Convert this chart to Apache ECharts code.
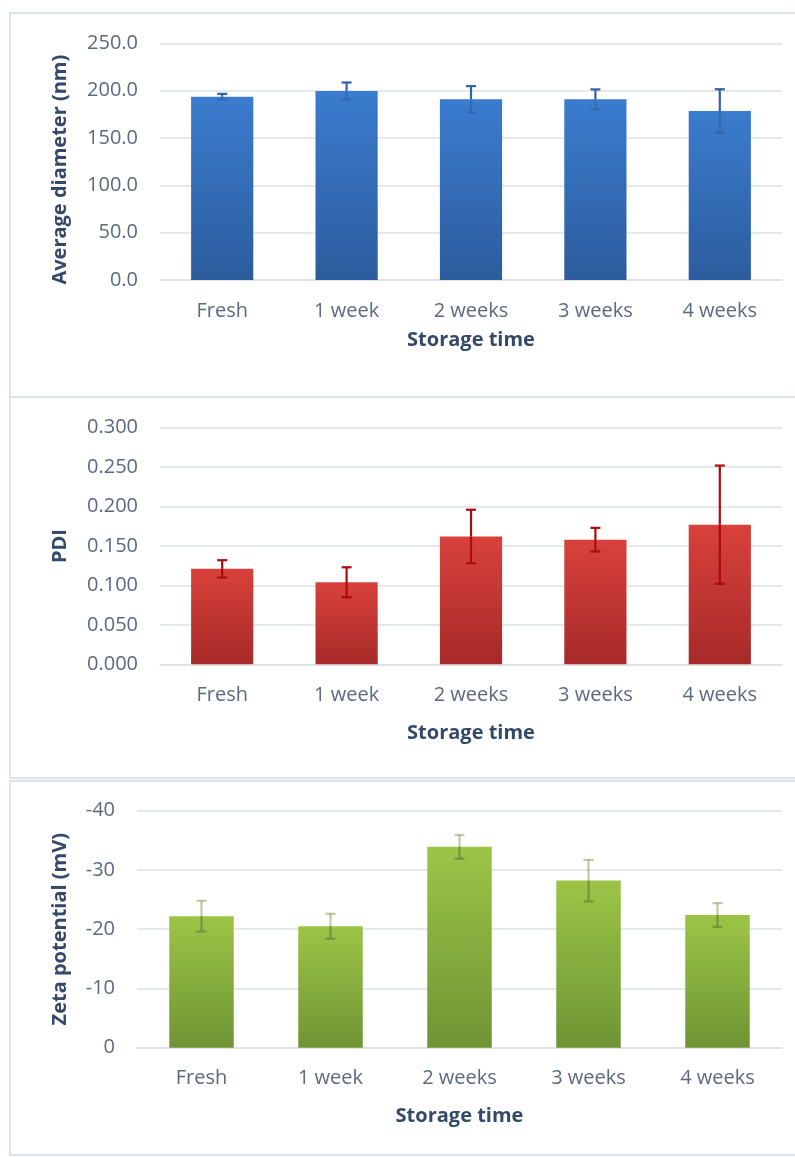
<!DOCTYPE html>
<html>
<head>
<meta charset="utf-8">
<script src="https://cdn.jsdelivr.net/npm/echarts@6/dist/echarts.min.js"></script>
<style>
html,body{margin:0;padding:0;background:#fff;}
#chart{width:795px;height:1157px;}
</style>
</head>
<body>
<div id="chart"></div>
<script>
// ---- data ----
const categories = ['Fresh', '1 week', '2 weeks', '3 weeks', '4 weeks'];
const diameterMean = [193.6, 199.6, 190.8, 190.8, 178.5];
const diameterErr  = [3.0, 9.0, 14.0, 10.5, 23.0];
const pdiMean = [0.121, 0.104, 0.162, 0.158, 0.177];
const pdiErr  = [0.011, 0.019, 0.034, 0.015, 0.075];
const zetaMean = [-22.2, -20.5, -33.9, -28.2, -22.4];
const zetaErr  = [2.6, 2.1, 2.0, 3.5, 2.0];
const xAxisTitle = 'Storage time';
const yTitles = ['Average diameter (nm)', 'PDI', 'Zeta potential (mV)'];

// ---- styling ----
const FONT = 'Open Sans';
const tickColor = '#5b6a7e';
const nameColor = '#34496a';
const gridColor = '#dde1e6';

function grad(top, bottom) {
  return new echarts.graphic.LinearGradient(0, 0, 0, 1, [
    { offset: 0, color: top }, { offset: 1, color: bottom }
  ]);
}

function errSeries(idx, mean, err, color, lowColor) {
  return {
    type: 'custom',
    xAxisIndex: idx, yAxisIndex: idx,
    z: 10,
    data: categories.map((c, i) => [i, mean[i], err[i]]),
    encode: { x: 0, y: 1 },
    renderItem: function (params, api) {
      const x = api.value(0), m = api.value(1), e = api.value(2);
      const hi = api.coord([x, m + e]);
      const mid = api.coord([x, m]);
      const lo = api.coord([x, m - e]);
      const cap = 5;
      const st = { stroke: color, lineWidth: 2.2, fill: null };
      const stLow = { stroke: lowColor, lineWidth: 2.2, fill: null };
      return {
        type: 'group',
        children: [
          { type: 'line', shape: { x1: hi[0], y1: hi[1], x2: mid[0], y2: mid[1] }, style: st },
          { type: 'line', shape: { x1: hi[0] - cap, y1: hi[1], x2: hi[0] + cap, y2: hi[1] }, style: st },
          { type: 'line', shape: { x1: mid[0], y1: mid[1], x2: lo[0], y2: lo[1] }, style: stLow },
          { type: 'line', shape: { x1: lo[0] - cap, y1: lo[1], x2: lo[0] + cap, y2: lo[1] }, style: stLow }
        ]
      };
    }
  };
}

function xAxisDef(idx, nameGap) {
  return {
    type: 'category', gridIndex: idx, data: categories,
    name: xAxisTitle, nameLocation: 'middle', nameGap: nameGap,
    nameTextStyle: { fontFamily: FONT, fontSize: 20, fontWeight: 'bold', color: nameColor },
    axisLine: { lineStyle: { color: gridColor, width: 1.5 } },
    axisTick: { show: false },
    axisLabel: { fontFamily: FONT, fontSize: 20, color: tickColor, margin: 21 }
  };
}

function yAxisDef(idx, min, max, interval, dec, nameGap, inverse, namePad) {
  return {
    type: 'value', gridIndex: idx, min: min, max: max, interval: interval, inverse: !!inverse,
    name: yTitles[idx], nameLocation: 'middle', nameGap: nameGap, nameRotate: 90,
    nameTextStyle: { fontFamily: FONT, fontSize: 20, fontWeight: 'bold', color: nameColor,
      padding: namePad || 0 },
    axisLine: { show: false }, axisTick: { show: false },
    splitLine: { lineStyle: { color: gridColor, width: 1.5 } },
    axisLabel: {
      fontFamily: FONT, fontSize: 20, color: tickColor, margin: 22,
      formatter: v => Number(v).toFixed(dec)
    }
  };
}

const chart = echarts.init(document.getElementById('chart'));
const borderStyle = { fill: 'none', stroke: '#dbe4ec', lineWidth: 2 };
chart.setOption({
  backgroundColor: '#ffffff',
  animation: false,
  graphic: [
    { type: 'rect', shape: { x: 10, y: 13, width: 800, height: 384 }, style: borderStyle, silent: true },
    { type: 'rect', shape: { x: 10, y: 397, width: 800, height: 381 }, style: borderStyle, silent: true },
    { type: 'rect', shape: { x: 10, y: 781, width: 800, height: 374 }, style: borderStyle, silent: true }
  ],
  grid: [
    { left: 160, right: 13, top: 43.3, height: 236.7 },
    { left: 160, right: 13, top: 427.7, height: 236.6 },
    { left: 137, right: 13, top: 810.7, height: 237 }
  ],
  xAxis: [xAxisDef(0, 50), xAxisDef(1, 59), xAxisDef(2, 59)],
  yAxis: [
    yAxisDef(0, 0, 250, 50, 1, 90, false, [0, 16, 0, 0]),
    yAxisDef(1, 0, 0.3, 0.05, 3, 90),
    yAxisDef(2, -40, 0, 10, 0, 67, true)
  ],
  series: [
    { type: 'bar', xAxisIndex: 0, yAxisIndex: 0, data: diameterMean, barWidth: '50%',
      itemStyle: { color: grad('#3b7cce', '#2c5c9d') } },
    errSeries(0, diameterMean, diameterErr, '#2f62a6', 'rgba(40,90,160,0.45)'),
    { type: 'bar', xAxisIndex: 1, yAxisIndex: 1, data: pdiMean, barWidth: '50%',
      itemStyle: { color: grad('#d9413b', '#a62a28') } },
    errSeries(1, pdiMean, pdiErr, '#a80c0c', '#a80c0c'),
    { type: 'bar', xAxisIndex: 2, yAxisIndex: 2, data: zetaMean, barWidth: '50%',
      itemStyle: { color: grad('#9cc547', '#6f9434') } },
    errSeries(2, zetaMean, zetaErr, '#76953a', 'rgba(110,140,50,0.45)')
  ]
});
</script>
</body>
</html>
